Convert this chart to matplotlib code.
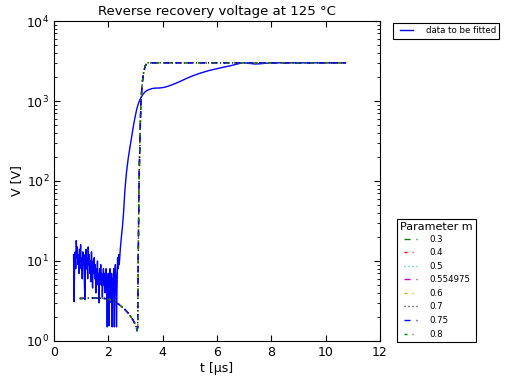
import matplotlib
matplotlib.use("Agg")
import matplotlib.pyplot as plt
from matplotlib.lines import Line2D
from matplotlib.legend_handler import HandlerLine2D

plt.rcParams.update({
    "font.family": ["DejaVu Sans"],
    "xtick.direction": "in",
    "ytick.direction": "in",
    "xtick.top": True,
    "ytick.right": True,
    "xtick.major.size": 4,
    "ytick.major.size": 4,
    "xtick.minor.size": 2,
    "ytick.minor.size": 2,
    "xtick.labelsize": 9,
    "ytick.labelsize": 9,
    "lines.linewidth": 1.0,
    "lines.scale_dashes": False,
    "lines.dashed_pattern": [4.3, 4.3],
    "lines.dashdot_pattern": [2.2, 3.6, 0.7, 3.6],
    "lines.dotted_pattern": [0.7, 2.2],
    "mathtext.default": "regular",
})

# measured reverse recovery voltage
t_meas = [0.72, 0.74, 0.76, 0.78, 0.80, 0.82, 0.84, 0.86, 0.88, 0.90, 0.92, 0.94,
          0.96, 0.98, 1.00, 1.02, 1.04, 1.06, 1.08, 1.10, 1.12, 1.14, 1.16, 1.18,
          1.20, 1.22, 1.24, 1.26, 1.28, 1.30, 1.32, 1.34, 1.36, 1.38, 1.40, 1.42,
          1.44, 1.46, 1.48, 1.50, 1.52, 1.54, 1.56, 1.58, 1.60, 1.62, 1.64, 1.66,
          1.68, 1.70, 1.72, 1.74, 1.76, 1.78, 1.80, 1.82, 1.84, 1.86, 1.88, 1.90,
          1.92, 1.94, 1.96, 1.98, 2.00, 2.02, 2.04, 2.06, 2.08, 2.10, 2.12, 2.14,
          2.16, 2.18, 2.20, 2.22, 2.24, 2.26, 2.28, 2.30, 2.32, 2.34, 2.36, 2.38,
          2.40, 2.42, 2.44, 2.48, 2.52, 2.56, 2.61, 2.67, 2.73, 2.80, 2.86, 2.92,
          2.98, 3.05, 3.12, 3.20, 3.28, 3.36, 3.45, 3.55, 3.65, 3.75, 3.90, 4.05,
          4.20, 4.40, 4.63, 4.90, 5.10, 5.37, 5.70, 6.10, 6.50, 6.85, 7.00, 7.20,
          7.40, 7.60, 7.80, 8.00, 9.00, 10.00, 10.73]
v_meas = [12, 3.1, 10, 13, 8, 18, 11, 15, 9, 12, 7, 14,
          10, 16, 8, 11, 6, 13, 9, 12, 5, 3.3, 10, 14,
          8, 11, 6, 15, 9, 12, 7, 10, 5.5, 13, 8, 4.6,
          10, 7, 11, 6, 9, 4, 8, 6, 10, 5, 7, 3.0,
          8, 6, 9, 5, 7, 3.5, 6, 8, 5, 7, 4, 6,
          8, 5, 1.5, 6, 7, 1.55, 5, 8, 6, 3, 7, 1.5,
          6, 5, 8, 1.5, 7, 9, 6, 1.5, 4.6, 11, 8, 12,
          9, 11, 14, 20, 27, 40, 77, 130, 190, 270, 358, 480,
          620, 800, 960, 1100, 1220, 1310, 1370, 1410, 1440, 1450, 1455, 1480,
          1530, 1620, 1750, 1930, 2060, 2220, 2400, 2580, 2760, 2960, 3000, 2950,
          2900, 2920, 2970, 3000, 3000, 3000, 3000]

# fitted model curves, one per value of m
m_values = ["0.3", "0.4", "0.5", "0.554975", "0.6", "0.7", "0.75", "0.8"]
t_fit = [0.95, 1.2, 1.5, 1.8, 2.0, 2.2, 2.4, 2.6, 2.75, 2.9, 3.0, 3.06,
         3.08, 3.10, 3.13, 3.17, 3.20, 3.25, 3.30, 3.36, 3.42, 10.73]
v_fit = [3.4, 3.42, 3.45, 3.42, 3.35, 3.15, 2.85, 2.5, 2.2, 1.85, 1.6, 1.35,
         1.5, 10, 100, 400, 1000, 1700, 2300, 2750, 3000, 3000]

colors = ["g", "r", "c", "m", "y", "k", "b", "g"]
styles = ["--", "-.", ":", "--", "-.", ":", "--", "-."]

fig = plt.figure(figsize=(5.08, 3.76), dpi=100)
ax = fig.add_axes([54 / 508, 35 / 376, 326 / 508, 320 / 376])

h_meas, = ax.plot(t_meas, v_meas, color="b", label="data to be fitted")
fit_handles = []
for m, c, ls in zip(m_values, colors, styles):
    h, = ax.plot(t_fit, v_fit, color=c, linestyle=ls, label=m)
    fit_handles.append(h)

ax.set_yscale("log")
ax.set_xlim(0, 12)
ax.set_ylim(1, 1e4)
ax.set_xticks([0, 2, 4, 6, 8, 10, 12])
ax.set_xlabel("t [µs]", fontsize=9, labelpad=2)
ax.set_ylabel("V [V]", fontsize=9, labelpad=2)
ax.set_title("Reverse recovery voltage at 125 °C", fontsize=9.5, pad=4)

# legend line handles sit in the right part of the handle box
hmap = {Line2D: HandlerLine2D(xpad=0.45)}
leg_kw = dict(fontsize=6.2, fancybox=False, framealpha=1, edgecolor="k",
              handlelength=1.92, handletextpad=1.45, borderaxespad=0.0,
              borderpad=0.4, handler_map=hmap)

leg1 = ax.legend(handles=[h_meas], loc="upper left",
                 bbox_to_anchor=(1.04, 0.994), **leg_kw)
leg1.get_frame().set_linewidth(0.8)
ax.add_artist(leg1)
leg2 = ax.legend(handles=fit_handles, loc="lower left",
                 bbox_to_anchor=(1.052, -0.003), title="Parameter m",
                 title_fontsize=8, labelspacing=0.53, **leg_kw)
leg2.get_frame().set_linewidth(0.8)
leg2._legend_box.align = "left"
leg2._legend_box.sep = 1.8

fig.savefig("out.png", dpi=100)
